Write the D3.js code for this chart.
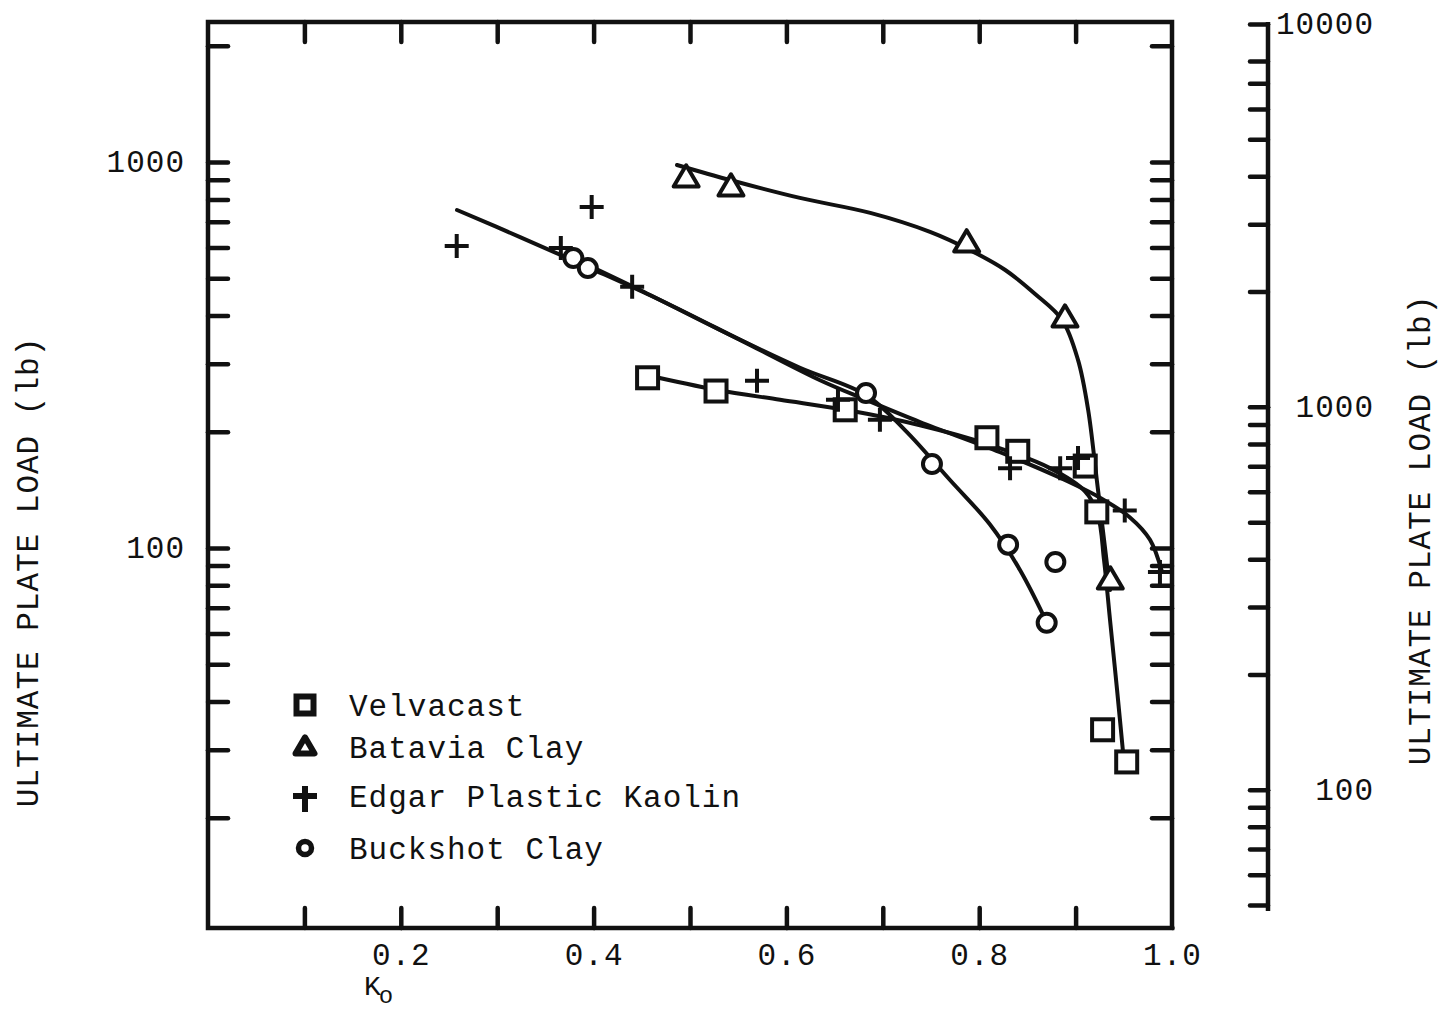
<!DOCTYPE html>
<html>
<head>
<meta charset="utf-8">
<script src="https://cdn.jsdelivr.net/npm/d3@7"></script>
<style>
  body { margin: 0; background: #fff; }
  text { font-family: "Liberation Mono", "DejaVu Sans Mono", monospace; fill: #111; }
</style>
</head>
<body>
<div id="chart"></div>
<script>
// Measured points (Ko, ultimate plate load in lb)
const velvacast = [[0.456, 276], [0.527, 255], [0.661, 228], [0.808, 193], [0.840, 178],
  [0.910, 163], [0.922, 124], [0.928, 33.8], [0.953, 27.9]];
const batavia = [[0.496, 909], [0.5425, 861], [0.787, 617], [0.889, 394], [0.936, 82.6]];
const edgar = [[0.258, 606], [0.398, 764], [0.366, 599], [0.440, 475], [0.5695, 271],
  [0.6535, 242], [0.697, 215], [0.832, 161], [0.884, 161], [0.9025, 171], [0.951, 125], [0.9875, 86.7]];
const buckshot = [[0.379, 564], [0.394, 531], [0.6826, 252], [0.751, 165], [0.830, 102],
  [0.879, 92], [0.870, 64]];

// Hand-drawn fitted curves
const velvacastCurve = [[0.4533, 281], [0.527, 257], [0.5934, 242], [0.661, 228], [0.7386, 208],
  [0.811, 185], [0.8734, 161], [0.910, 140], [0.923, 122], [0.9295, 93], [0.9357, 65.1],
  [0.943, 42.9], [0.950, 28.2]];
const bataviaCurve = [[0.4865, 982], [0.5415, 898], [0.614, 807], [0.687, 738], [0.749, 659],
  [0.790, 592], [0.827, 525], [0.858, 455], [0.886, 390], [0.9025, 307], [0.913, 228],
  [0.922, 150], [0.9295, 105], [0.9357, 77.8]];
const edgarCurve = [[0.2583, 751], [0.3237, 639], [0.3963, 531], [0.4689, 439], [0.5519, 346],
  [0.6349, 272], [0.6826, 242], [0.7386, 212], [0.8216, 177], [0.8838, 152], [0.9253, 135],
  [0.9564, 120], [0.9772, 105], [0.9896, 86.7]];
const buckshotCurve = [[0.3786, 564], [0.4481, 466], [0.5311, 367], [0.6141, 293], [0.6826, 249],
  [0.723, 202], [0.7697, 150], [0.8112, 115], [0.8423, 87.7], [0.8703, 64]];

// Tick values and labels
const xMinorTicks = [0.1, 0.2, 0.3, 0.4, 0.5, 0.6, 0.7, 0.8, 0.9];
const xLabels = [0.2, 0.4, 0.6, 0.8, 1.0];
const yTicks = [20, 30, 40, 50, 60, 70, 80, 90, 100, 200, 300, 400, 500, 600, 700, 800, 900, 1000, 2000];
const yLabels = [100, 1000];
const y2Ticks = [50, 60, 70, 80, 90, 100, 200, 300, 400, 500, 600, 700, 800, 900, 1000,
  2000, 3000, 4000, 5000, 6000, 7000, 8000, 10000];
const y2Labels = [100, 1000, 10000];
const legendItems = ['Velvacast', 'Batavia Clay', 'Edgar Plastic Kaolin', 'Buckshot Clay'];

const W = 1438, H = 1011;
const plotL = 208, plotR = 1172, plotT = 22, plotB = 928;

const svg = d3.select('#chart').append('svg')
  .attr('width', W).attr('height', H);
svg.append('rect').attr('width', W).attr('height', H).attr('fill', '#fff');

const x = d3.scaleLinear().domain([0, 1]).range([plotL, plotR]);
const y = d3.scaleLog().domain([10.36, 2305]).range([plotB, plotT]);
const y2 = d3.scaleLog().domain([50, 10000]).range([905, 24]);

const font = { size: '31px', spacing: '1px' };

function styleAxis(g) {
  g.select('.domain').remove();
  g.selectAll('.tick line').attr('stroke', '#111').attr('stroke-width', 4.5).attr('stroke-linecap', 'round');
  g.selectAll('.tick text').attr('font-size', font.size).attr('letter-spacing', font.spacing)
    .attr('font-family', '"Liberation Mono", monospace').attr('fill', '#111');
}

// frame
svg.append('rect')
  .attr('x', plotL).attr('y', plotT).attr('width', plotR - plotL).attr('height', plotB - plotT)
  .attr('fill', 'none').attr('stroke', '#111').attr('stroke-width', 4.5);

// inward ticks on all four sides
svg.append('g').attr('transform', `translate(0,${plotB})`)
  .call(d3.axisBottom(x).tickValues(xMinorTicks).tickSize(-20).tickFormat(''))
  .call(styleAxis);
svg.append('g').attr('transform', `translate(0,${plotT})`)
  .call(d3.axisTop(x).tickValues(xMinorTicks).tickSize(-20).tickFormat(''))
  .call(styleAxis);
svg.append('g').attr('transform', `translate(${plotL},0)`)
  .call(d3.axisLeft(y).tickValues(yTicks).tickSize(-20)
    .tickPadding(23).tickFormat(d => yLabels.includes(d) ? d : ''))
  .call(styleAxis);
svg.append('g').attr('transform', `translate(${plotR},0)`)
  .call(d3.axisRight(y).tickValues(yTicks).tickSize(-20).tickFormat(''))
  .call(styleAxis);

// x labels
svg.append('g').attr('transform', `translate(0,${plotB})`)
  .call(d3.axisBottom(x).tickValues(xLabels).tickSize(0).tickPadding(15).tickFormat(d3.format('.1f')))
  .call(styleAxis);

// secondary right axis
const rx = 1268;
svg.append('line').attr('x1', rx).attr('x2', rx).attr('y1', y2(10000) - 2).attr('y2', y2(50) + 6)
  .attr('stroke', '#111').attr('stroke-width', 4.5);
svg.append('g').attr('transform', `translate(${rx},0)`)
  .call(d3.axisLeft(y2).tickValues(y2Ticks).tickSize(18).tickFormat(''))
  .call(styleAxis);
svg.append('g').attr('transform', `translate(${rx},0)`)
  .call(d3.axisRight(y2).tickValues(y2Labels).tickSize(0).tickPadding(106).tickFormat(d => d))
  .call(styleAxis)
  .selectAll('.tick text').attr('text-anchor', 'end');

// axis titles
svg.append('text')
  .attr('transform', 'translate(38,572) rotate(-90)')
  .attr('text-anchor', 'middle').attr('font-size', font.size).attr('letter-spacing', font.spacing)
  .text('ULTIMATE PLATE LOAD (lb)');
svg.append('text')
  .attr('transform', 'translate(1430,530) rotate(-90)')
  .attr('text-anchor', 'middle').attr('font-size', font.size).attr('letter-spacing', font.spacing)
  .text('ULTIMATE PLATE LOAD (lb)');
const ko = svg.append('text').attr('x', 364).attr('y', 995).attr('font-size', '28px');
ko.append('tspan').text('K');
ko.append('tspan').attr('dx', -2).attr('dy', 8).attr('font-size', '24px').text('o');

// curves
const line = d3.line().x(d => x(d[0])).y(d => y(d[1])).curve(d3.curveCatmullRom.alpha(0.5));
[velvacastCurve, bataviaCurve, edgarCurve, buckshotCurve].forEach(c => {
  svg.append('path').attr('d', line(c))
    .attr('fill', 'none').attr('stroke', '#111').attr('stroke-width', 4).attr('stroke-linecap', 'round');
});

// marker drawing helpers
function square(g, s, sw) {
  g.append('rect').attr('x', -s / 2).attr('y', -s / 2).attr('width', s).attr('height', s)
    .attr('fill', '#fff').attr('stroke', '#111').attr('stroke-width', sw);
}
function triangle(g, s, sw) {
  const h = s * 0.85;
  g.append('path').attr('d', `M0,${-h * 0.6}L${s / 2},${h * 0.4}L${-s / 2},${h * 0.4}Z`)
    .attr('fill', '#fff').attr('stroke', '#111').attr('stroke-width', sw).attr('stroke-linejoin', 'round');
}
function plus(g, s, sw) {
  g.append('path').attr('d', `M${-s / 2},0H${s / 2}M0,${-s / 2}V${s / 2}`)
    .attr('stroke', '#111').attr('stroke-width', sw).attr('fill', 'none');
}
function circle(g, s, sw) {
  g.append('circle').attr('r', s / 2).attr('fill', '#fff').attr('stroke', '#111').attr('stroke-width', sw);
}

function drawPoints(data, fn, s, sw) {
  svg.append('g').selectAll('g').data(data).enter().append('g')
    .attr('transform', d => `translate(${x(d[0])},${y(d[1])})`)
    .each(function() { fn(d3.select(this), s, sw); });
}
drawPoints(velvacast, square, 21, 4);
drawPoints(batavia, triangle, 25, 4);
drawPoints(buckshot, circle, 18, 4);
drawPoints(edgar, plus, 24, 4);

// legend
const legendFns = [
  g => square(g, 17, 6),
  g => triangle(g, 19, 6),
  g => { g.append('path').attr('d', 'M-12,0H12M0,-10V16').attr('stroke', '#111').attr('stroke-width', 6); },
  g => circle(g, 13, 5.5)
];
const legendY = [705, 747, 796, 848];
legendItems.forEach((name, i) => {
  const g = svg.append('g').attr('transform', `translate(305,${legendY[i]})`);
  legendFns[i](g);
  svg.append('text').attr('x', 349).attr('y', legendY[i] + 11)
    .attr('font-size', font.size).attr('letter-spacing', font.spacing).text(name);
});
</script>
</body>
</html>
